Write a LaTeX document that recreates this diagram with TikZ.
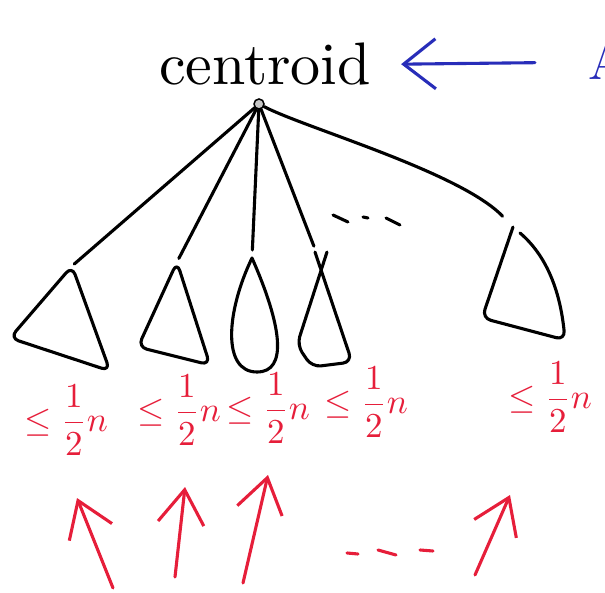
\documentclass[tikz,border=0pt]{standalone}
\usetikzlibrary{arrows.meta}
\definecolor{penred}{RGB}{230,30,58}
\definecolor{penblue}{RGB}{40,45,185}
\tikzset{
  pen/.style={line width=3.1pt,line cap=round,line join=round},
  sub/.style={pen,rounded corners=9pt},
  half/.style={text=penred,scale=3.5,inner sep=0pt},
  up/.style={pen,penred,-{Straight Barb[length=34pt,width=46pt]}},
}
\begin{document}
\begin{tikzpicture}[x=1pt,y=-1pt]
  \useasboundingbox (0,0) rectangle (605,593);
  \clip (0,0) rectangle (605,593);
  % title and pointer
  \node[anchor=base,inner sep=0pt,scale=6] (cent) at (265,85) {centroid};
  \node[anchor=base west,inner sep=0pt,text=penblue,scale=5] (ans) at (587,80) {A};
  \draw[pen,penblue,-{Straight Barb[length=32pt,width=50pt]},shorten <=52pt,shorten >=29pt] (ans.west) -- (cent.east);
  % root and subtrees
  \node[draw,circle,fill=gray!45,line width=1.5pt,minimum size=10pt,inner sep=0pt] (root) at (259,104) {};
  \coordinate (s1) at (72,266);
  \coordinate (s2) at (177,262);
  \coordinate (s3) at (252,258);
  \coordinate (s4) at (320,262);
  \coordinate (s5) at (513,227);
  \draw[pen,shorten >=3pt] (root) -- (s1);
  \draw[pen,shorten >=4pt] (root) -- (s2);
  \draw[pen,shorten >=8pt] (root) -- (s3);
  \draw[pen,shorten >=17pt] (root) -- (s4);
  \draw[pen,shorten >=15pt] (root) .. controls (305,128) and (460,172) .. (s5);
  \draw[sub] (s1) -- (10,338) -- (110,371) -- cycle;
  \draw[sub] (s2) -- (138,347) -- (210,365) -- cycle;
  \draw[pen] (s3) .. controls (226,312) and (222,372) .. (257,372)
    .. controls (288,372) and (282,326) .. (s3);
  \draw[sub] (327,252) -- (297,345) -- (312,367) -- (352,362) -- (315,252);
  \draw[sub] (s5) -- (482,318) -- (565,340) .. controls (560,290) and (546,255) .. (520,233);
  \draw[pen] (333,215) -- (348,222);
  \draw[pen] (363,217) -- (368,218);
  \draw[pen] (386,218) -- (400,225);
  % size bounds
  \node[half] (b1) at (66,420) {$\displaystyle\le\frac{1}{2}n$};
  \node[half] (b2) at (179,410) {$\displaystyle\le\frac{1}{2}n$};
  \node[half] (b3) at (268,408) {$\displaystyle\le\frac{1}{2}n$};
  \node[half] (b4) at (366,402) {$\displaystyle\le\frac{1}{2}n$};
  \node[half] (b5) at (550,397) {$\displaystyle\le\frac{1}{2}n$};
  % arrows
  \coordinate (t1) at (113,588); \coordinate (h1) at (77,498);
  \coordinate (t2) at (175,577); \coordinate (h2) at (185,487);
  \coordinate (t3) at (243,583); \coordinate (h3) at (268,475);
  \coordinate (t4) at (475,575); \coordinate (h4) at (510,495);
  \foreach \i in {1,...,4}
    \draw[up] (t\i) -- (h\i);
  \draw[pen,penred] (347,553) -- (358,554);
  \draw[pen,penred] (378,550) -- (396,555);
  \draw[pen,penred] (420,550) -- (433,551);
\end{tikzpicture}
\end{document}
